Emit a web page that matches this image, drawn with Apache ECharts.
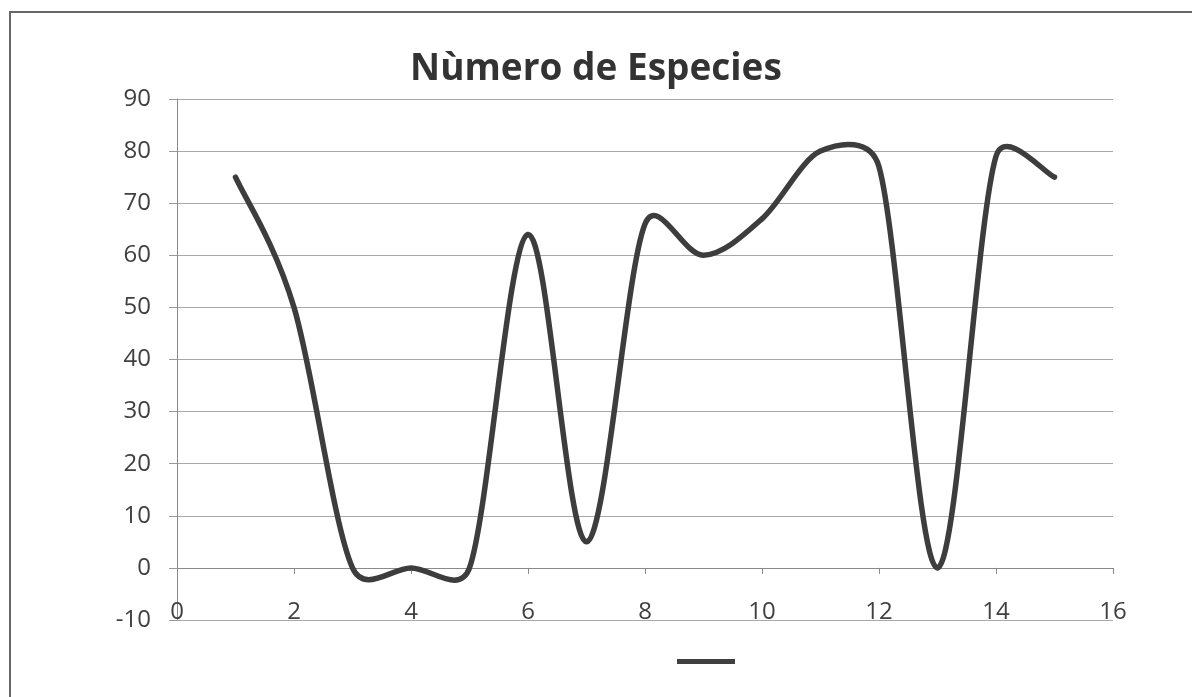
<!DOCTYPE html>
<html>
<head>
<meta charset="utf-8">
<script src="https://cdn.jsdelivr.net/npm/echarts@6/dist/echarts.min.js"></script>
<style>
html,body{margin:0;padding:0;background:#fff;}
#chart{width:1192px;height:697px;}
</style>
</head>
<body>
<div id="chart"></div>
<script>
var titleText = 'Nùmero de Especies';
var xValues = [1, 2, 3, 4, 5, 6, 7, 8, 9, 10, 11, 12, 13, 14, 15];
var speciesCounts = [75, 50, 0, 0, 0, 64, 5, 66, 60, 67, 80, 77, 0, 79, 75];
var seriesName = ' ';

var points = xValues.map(function (x, i) { return [x, speciesCounts[i]]; });

// Excel-style smoothed line path through pixel coordinates obtained from the axes
function excelSplinePath(pts) {
  function dist(a, b) { var dx = a[0] - b[0], dy = a[1] - b[1]; return Math.sqrt(dx * dx + dy * dy); }
  var d = 'M' + pts[0][0] + ',' + pts[0][1];
  for (var i = 0; i < pts.length - 1; i++) {
    var p1 = pts[i], p2 = pts[i + 1];
    var p0 = i > 0 ? pts[i - 1] : p1;
    var p3 = i + 2 < pts.length ? pts[i + 2] : p2;
    var d02 = dist(p0, p2), d12 = dist(p1, p2), d13 = dist(p1, p3);
    var f0 = 1 / 6, f1 = 1 / 6;
    if (d02 > 0 && d02 / 6 >= d12 / 2) f0 = d12 / (2 * d02);
    if (d13 > 0 && d13 / 6 >= d12 / 2) f1 = d12 / (2 * d13);
    var c1 = [p1[0] + (p2[0] - p0[0]) * f0, p1[1] + (p2[1] - p0[1]) * f0];
    var c2 = [p2[0] - (p3[0] - p1[0]) * f1, p2[1] - (p3[1] - p1[1]) * f1];
    d += 'C' + c1[0] + ',' + c1[1] + ',' + c2[0] + ',' + c2[1] + ',' + p2[0] + ',' + p2[1];
  }
  return d;
}

var chart = echarts.init(document.getElementById('chart'));
chart.setOption({
  backgroundColor: '#ffffff',
  animation: false,
  title: {
    text: titleText,
    left: 'center',
    top: 46,
    textStyle: { fontFamily: 'Open Sans', fontWeight: 'bold', fontSize: 37, color: '#333333' }
  },
  graphic: [{
    type: 'rect',
    shape: { x: 10, y: 12, width: 1200, height: 700 },
    style: { fill: 'none', stroke: '#666666', lineWidth: 2 },
    silent: true
  }],
  legend: {
    left: 672,
    top: 654,
    itemWidth: 58,
    itemHeight: 5,
    icon: 'rect',
    formatter: function () { return ''; },
    data: [{ name: seriesName, itemStyle: { color: '#404040' } }]
  },
  grid: { left: 177, right: 79, top: 99, bottom: 77, containLabel: false },
  xAxis: {
    type: 'value',
    min: 0, max: 16, interval: 2,
    axisLine: { show: true, onZero: true, lineStyle: { color: '#8a8a8a', width: 1 } },
    axisTick: { show: true, inside: false, length: 6, lineStyle: { color: '#8a8a8a' } },
    axisLabel: { margin: -20, fontFamily: 'Open Sans', fontSize: 24, color: '#404040' },
    splitLine: { show: false }
  },
  yAxis: {
    type: 'value',
    min: -10, max: 90, interval: 10,
    axisLine: { show: true, lineStyle: { color: '#8a8a8a', width: 1 } },
    axisTick: { show: true, length: 8, lineStyle: { color: '#9a9a9a' } },
    axisLabel: { margin: 26, fontFamily: 'Open Sans', fontSize: 24, color: '#404040' },
    splitLine: { show: true, lineStyle: { color: '#a8a8a8', width: 1 } }
  },
  series: [{
    name: seriesName,
    type: 'custom',
    coordinateSystem: 'cartesian2d',
    encode: { x: 0, y: 1 },
    data: points,
    itemStyle: { color: '#404040' },
    renderItem: function (params, api) {
      if (params.dataIndex !== 0) return null;
      var px = points.map(function (p) { return api.coord(p); });
      return {
        type: 'path',
        shape: { pathData: excelSplinePath(px) },
        style: { fill: 'none', stroke: '#3d3d3d', lineWidth: 5.5, lineJoin: 'round', lineCap: 'round' }
      };
    }
  }]
});
</script>
</body>
</html>
